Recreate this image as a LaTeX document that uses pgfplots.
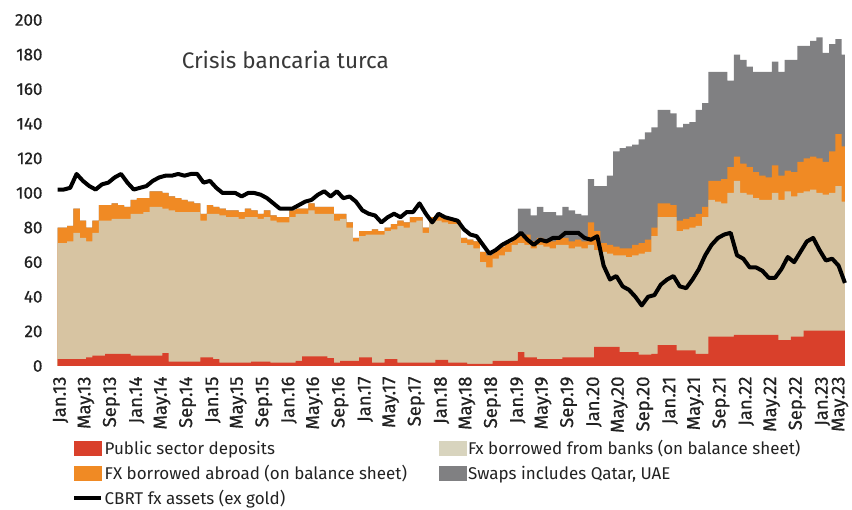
\documentclass[border=0pt]{standalone}
\usepackage{fontspec}
\setmainfont{Fira Sans}
\newfontfamily\tickfont{Fira Sans}[FakeBold=0.7]
\usepackage{pgfplots}
\usepackage{pgfplotstable}
\pgfplotsset{compat=1.18}

\definecolor{pubred}{RGB}{217,64,43}
\definecolor{bankbeige}{RGB}{215,196,162}
\definecolor{legbeige}{RGB}{216,212,190}
\definecolor{abroad}{RGB}{240,138,36}
\definecolor{swapgray}{RGB}{128,128,130}
\definecolor{txt}{RGB}{34,34,34}

% month index, public deposits, top of banks, top of abroad, top of swaps, CBRT line
\pgfplotstableread{
i r bt ot gt ln
0 4 71 80 80 102
1 4 71 80 80 102
2 4 72 81 81 103
3 4 77 91 91 111
4 4 74 84 84 107
5 5 72 80 80 104
6 6 77 84 84 102
7 6 84 93 93 105
8 7 84 93 93 106
9 7 85 94 94 109
10 7 85 93 93 111
11 7 85 92 92 106
12 6 88 96 96 102
13 6 88 97 97 103
14 6 89 97 97 104
15 6 92 101 101 107
16 6 92 101 101 109
17 7.5 91 100 100 110
18 2.5 90 98 98 110
19 2.5 89 97 97 111
20 2.5 89 96 96 110
21 2.5 89 95 95 111
22 2.5 89 94 94 111
23 5 84 88 88 106
24 5 88 93 93 107
25 4 88 92 92 103
26 2 87 91 91 100
27 2 86 90 90 100
28 2 86 90 90 100
29 2 85 89 89 98
30 2 86 91 91 100
31 2.5 86 90 90 100
32 2.5 85 88 88 99
33 2.5 86 90 90 97
34 2 84 87 87 94
35 2 83 86 86 91
36 2 83 86 86 91
37 2 86 90 90 91
38 3 88 91 91 93
39 5.5 88 91 91 95
40 5.5 90 94 94 96
41 5.5 88 92 92 99
42 5.5 88 92 92 101
43 4.5 88 92 92 98
44 2 84 88 88 101
45 3 85 88 88 97
46 3 80 83 83 98
47 3 72 74 74 95
48 5 75 78 78 90
49 5 76 78 78 88
50 2 76 79 79 87
51 2 76 78 78 83
52 4 78 80 80 86
53 4 79 82 82 88
54 2 81 84 84 86
55 2 80 83 83 89
56 2 83 86 86 89
57 2 84 86 86 94
58 2 77 80 80 88
59 2 83 86 86 83
60 3.5 84 87 87 88
61 3.5 83 86 86 86
62 2 82 85 85 85
63 2 82 84 84 84
64 2 71 74 74 79
65 1.2 70 73 73 76
66 1.2 68 72 72 75
67 1.2 60 66 66 70
68 1.2 57 64 66 65
69 3 62 67 67 67
70 3 64 69 69 70
71 3 66 71 71 72
72 3 70 74 74 74
73 8 71 77 91 77
74 5 70 76 91 73
75 5 68 72 87 70
76 4 70 74 92 73
77 4 69 73 89 72
78 4 68 72 89 74
79 4 70 74 87 74
80 5 70 74 92 77
81 5 68 72 90 77
82 5 69 73 88 77
83 5 68 72 87 74
84 5 70 83 108 73
85 11 67 78 104 75
86 11 66 71 104 58
87 11 65 70 110 50
88 11 64 69 124 52
89 8 64 68 126 46
90 8 63 68 127 44
91 8 64 70 128 40
92 6.5 65 71 131 35
93 6.5 66 73 135 40
94 7 75 80 138 41
95 12 86 94 148 47
96 12 86 94 148 50
97 12 86 93 146 52
98 9 78 84 138 46
99 9 79 85 140 45
100 9 80 86 141 50
101 7 81 88 148 56
102 7 86 92 152 64
103 17 96 107 170 70
104 17 95 107 170 74
105 17 94 108 170 76
106 17 100 115 165 77
107 18 107 121 180 64
108 18 100 117 177 62
109 18 99 115 173 57
110 18 97 112 170 57
111 18 96 110 170 55
112 18 96 109 170 51
113 18 100 116 176 51
114 15 96 110 170 56
115 15 101 113 177 63
116 17 98 112 177 60
117 17 100 118 185 66
118 20.5 101 120 185 72
119 20.5 102 121 188 74
120 20.5 100 120 190 67
121 20.5 99 118 181 61
122 20.5 100 124 186 62
123 20.5 104 134 189 58
124 20.5 95 127 180 48
}\data

\begin{document}
\begin{tikzpicture}
\path[use as bounding box] (-55pt,-144pt) rectangle (797pt,366pt);
\begin{axis}[
    at={(0,0)}, anchor=south west,
    scale only axis, width=795pt, height=346pt,
    xmin=-0.4, xmax=124.8, ymin=0, ymax=200,
    axis lines*=left,
    axis line style={draw=none},
    major tick length=0pt,
    ytick={0,20,...,200},
    xtick={0,4,...,120},
    xticklabels={Jan.13,May.13,Sep.13,Jan.14,May.14,Sep.14,Jan.15,May.15,Sep.15,
      Jan.16,May.16,Sep.16,Jan.17,May.17,Sep.17,Jan.18,May.18,Sep.18,
      Jan.19,May.19,Sep.19,Jan.20,May.20,Sep.20,Jan.21,May.21,Sep.21,
      Jan.22,May.22,Sep.22,Jan.23},
    extra x ticks={124},
    extra x tick labels={May.23},
    extra x tick style={xticklabel style={yshift=8pt}},
    /pgf/number format/assume math mode=true,
    tick label style={text=txt},
    yticklabel style={font=\tickfont\fontsize{17}{17}\selectfont, xshift=-9pt},
    xticklabel style={font=\tickfont\fontsize{18.5}{18.5}\selectfont,
      xshift=3pt, rotate=90, anchor=east, xshift=-7pt},
    sq/.style={legend image code/.code={\fill[#1] (0pt,-7pt) rectangle (27pt,7pt);}},
    legend columns=2,
    legend cell align=left,
    legend style={at={(0.0176,-0.205)}, anchor=north west, draw=none, fill=none,
      font=\fontsize{17}{19}\selectfont, text=txt, row sep=6pt,
      nodes={inner sep=1.5pt}},
  ]
  \addplot[fill=swapgray, draw=none, const plot mark mid, forget plot] table[x=i, y=gt] {\data} \closedcycle;
  \addplot[fill=abroad, draw=none, const plot mark mid, forget plot] table[x=i, y=ot] {\data} \closedcycle;
  \addplot[fill=bankbeige, draw=none, const plot mark mid, forget plot] table[x=i, y=bt] {\data} \closedcycle;
  \addplot[fill=pubred, draw=none, const plot mark mid, forget plot] table[x=i, y=r] {\data} \closedcycle;
  \addplot[black, line width=4pt, line join=round, forget plot] table[x=i, y=ln] {\data};

  \addlegendimage{sq=pubred}
  \addlegendentry{\makebox[333pt][l]{Public sector deposits}}
  \addlegendimage{sq=legbeige}
  \addlegendentry{Fx borrowed from banks (on balance sheet)}
  \addlegendimage{sq=abroad}
  \addlegendentry{\makebox[333pt][l]{FX borrowed abroad (on balance sheet)}}
  \addlegendimage{sq=swapgray}
  \addlegendentry{Swaps includes Qatar, UAE}
  \addlegendimage{legend image code/.code={\draw[black, line width=4pt] (0pt,0pt) -- (27pt,0pt);}}
  \addlegendentry{CBRT fx assets (ex gold)}

  \node[anchor=west, font=\fontsize{22.5}{26}\selectfont, text=black!78]
    at (axis description cs:0.155,0.884) {Crisis bancaria turca};
\end{axis}
\end{tikzpicture}
\end{document}
